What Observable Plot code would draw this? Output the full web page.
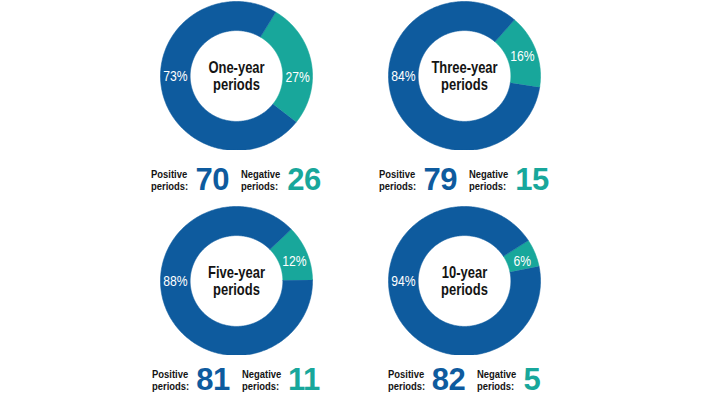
<!DOCTYPE html>
<html>
<head>
<meta charset="utf-8">
<script src="https://cdn.jsdelivr.net/npm/d3@7"></script>
<script src="https://cdn.jsdelivr.net/npm/@observablehq/plot@0.6"></script>
<style>
  html, body { margin: 0; padding: 0; background: #fff; }
  body { width: 710px; height: 399px; overflow: hidden; position: relative;
         font-family: "Liberation Sans Narrow", "Arial Narrow", "Liberation Sans", Arial, sans-serif; }
  .donut { position: absolute; width: 228px; }
  .donut svg { display: block; }
  .counts { position: absolute; width: 228px; height: 26px; display: flex;
            justify-content: center; align-items: center; }
  .lab { display: inline-block; margin-right: 7px; height: 24px; }
  .labInner { display: inline-block; font-weight: bold; font-size: 11.5px; line-height: 12px;
              color: #141414; white-space: pre; transform: scaleX(0.82); transform-origin: 0 50%; }
  .num { font-family: "Liberation Sans", Arial, sans-serif; font-weight: bold;
         font-size: 31px; line-height: 26px; margin-right: 12px; letter-spacing: -0.5px; }
  .num:last-child { margin-right: 0; }
</style>
</head>
<body>
<script>
// ---- data ----
const titles = ["One-year\nperiods", "Three-year\nperiods", "Five-year\nperiods", "10-year\nperiods"];
const positiveShare = [73, 84, 88, 94];
const negativeShare = [27, 16, 12, 6];
const positiveCount = [70, 79, 81, 82];
const negativeCount = [26, 15, 11, 5];
const countLabels = ["Positive\nperiods:", "Negative\nperiods:"];

// ---- styling / layout ----
const BLUE = "#0e5b9e";
const TEAL = "#18a79b";
const negStartDeg = [31, 41, 46, 57];   // rotation of each ring
const negLabelDeg = [91, 71, 71, 71];   // where the negative share label sits
const posLabelDeg = 270;                // positive share label at 9 o'clock
const panelLeft = [122, 350, 122, 350];
const panelTop = [1, 1, 205.5, 205.5];
const countsTop = [166.5, 166.5, 366.5, 366.5];
const INNER = 0.61, OUTER = 1, MID = (INNER + OUTER) / 2;
const NARROW_PCT = 0.84, NARROW_TITLE = 0.81;

function arcPolygon(seg, a0, a1) {
  const pts = [];
  const n = Math.max(2, Math.ceil(Math.abs(a1 - a0)));
  for (let k = 0; k <= n; k++) {
    const a = (a0 + (a1 - a0) * k / n) * Math.PI / 180;
    pts.push({seg, x: OUTER * Math.sin(a), y: OUTER * Math.cos(a)});
  }
  for (let k = n; k >= 0; k--) {
    const a = (a0 + (a1 - a0) * k / n) * Math.PI / 180;
    pts.push({seg, x: INNER * Math.sin(a), y: INNER * Math.cos(a)});
  }
  return pts;
}

titles.forEach((title, i) => {
  const s = negStartDeg[i];
  const e = s + negativeShare[i] / 100 * 360;
  const pts = [
    ...arcPolygon("negative", s, e),
    ...arcPolygon("positive", e, s + 360)
  ];
  const pctLabels = [
    {seg: "positive", text: positiveShare[i] + "%", angle: posLabelDeg},
    {seg: "negative", text: negativeShare[i] + "%", angle: negLabelDeg[i]}
  ];
  const chart = Plot.plot({
    width: 228,
    height: 149,
    margin: 0,
    style: {background: "transparent", fontFamily: "'Liberation Sans Narrow', 'Arial Narrow', 'Liberation Sans', Arial, sans-serif"},
    x: {domain: [-1.5, 1.5], axis: null},
    y: {domain: [-1, 1], axis: null},
    color: {domain: ["positive", "negative"], range: [BLUE, TEAL]},
    marks: [
      Plot.line(pts, {x: "x", y: "y", z: "seg", fill: "seg", stroke: "seg", strokeWidth: 0.6}),
      Plot.text(pctLabels, {
        x: d => MID * Math.sin(d.angle * Math.PI / 180),
        y: d => MID * Math.cos(d.angle * Math.PI / 180),
        text: "text", fill: "white", fontSize: 14.5, className: "pct"
      }),
      Plot.text([title], {
        x: () => 0, y: () => 0, text: d => d,
        fontSize: 16, fontWeight: "bold", lineHeight: 1.04, fill: "#141414", className: "ttl"
      })
    ]
  });
  // condense the glyphs horizontally around each text anchor
  const condense = (sel, k) => chart.querySelectorAll(sel).forEach(t => {
    const tr = t.getAttribute("transform") || "";
    t.setAttribute("transform", (tr + ` scale(${k},1)`).trim());
  });
  condense(".pct text", NARROW_PCT);
  condense(".ttl text", NARROW_TITLE);
  const holder = document.createElement("div");
  holder.className = "donut";
  holder.style.left = panelLeft[i] + "px";
  holder.style.top = panelTop[i] + "px";
  holder.appendChild(chart);
  document.body.appendChild(holder);

  const counts = document.createElement("div");
  counts.className = "counts";
  counts.style.left = panelLeft[i] + "px";
  counts.style.top = countsTop[i] + "px";
  document.body.appendChild(counts);
  const parts = [
    ["lab", countLabels[0], "#141414"],
    ["num", String(positiveCount[i]), BLUE],
    ["lab", countLabels[1], "#141414"],
    ["num", String(negativeCount[i]), TEAL]
  ];
  parts.forEach(([cls, txt, col]) => {
    const span = document.createElement("span");
    span.className = cls;
    if (cls === "lab") {
      const inner = document.createElement("span");
      inner.className = "labInner";
      inner.textContent = txt;
      span.appendChild(inner);
      counts.appendChild(span);
      span.style.width = inner.getBoundingClientRect().width + "px";
    } else {
      span.textContent = txt;
      span.style.color = col;
      counts.appendChild(span);
    }
  });
});
</script>
</body>
</html>
